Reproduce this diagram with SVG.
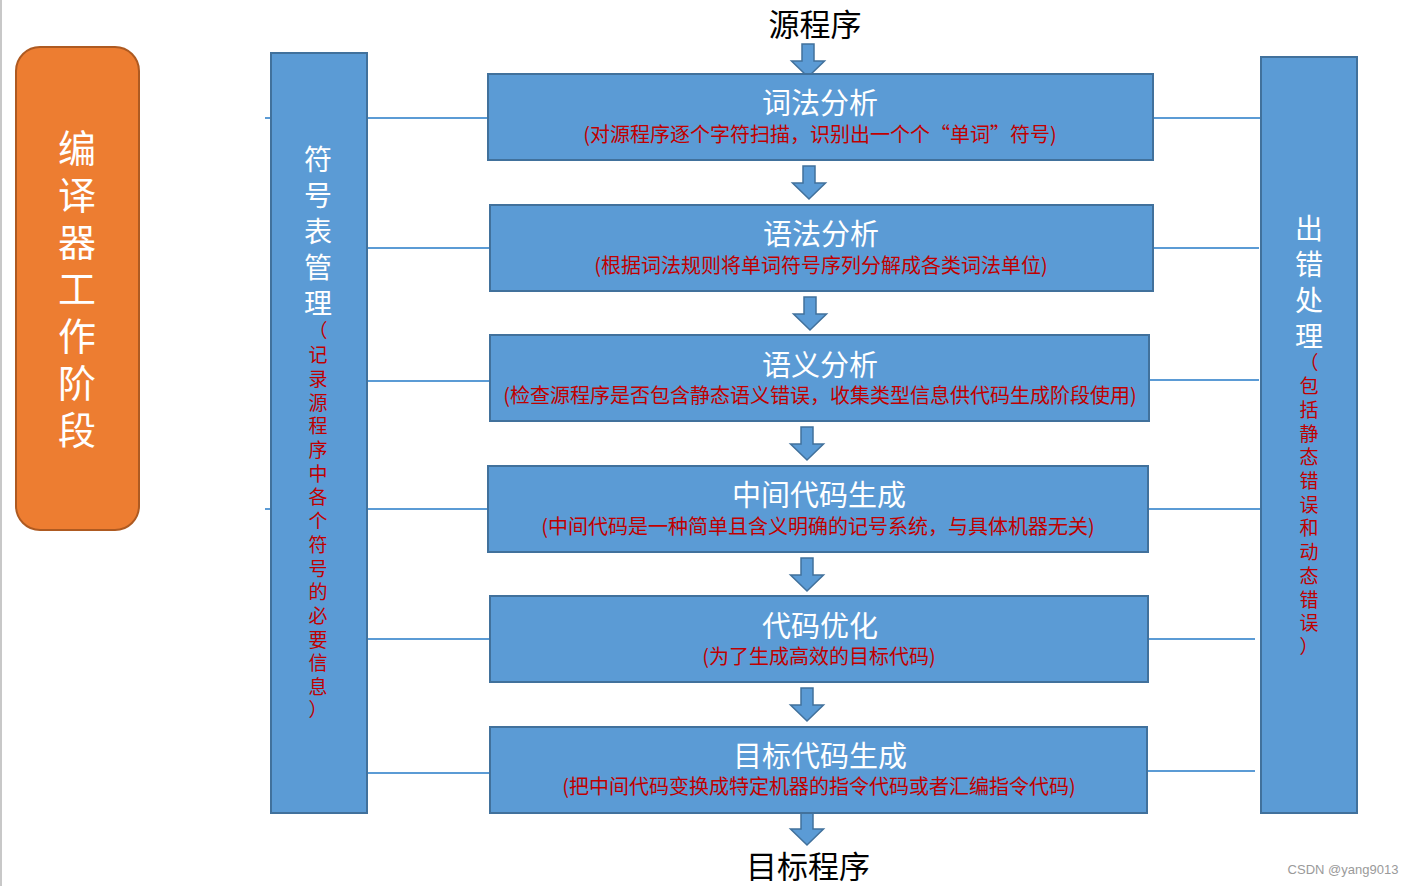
<svg xmlns="http://www.w3.org/2000/svg" width="1414" height="886" viewBox="0 0 1414 886">
<style>
.box{fill:#5B9BD5;stroke:#41719C;stroke-width:2}
.orange{fill:#ED7D31;stroke:#AE5A21;stroke-width:2}
.conn{stroke:#5B9BD5;stroke-width:2;fill:none}
.arr{fill:#5B9BD5;stroke:#41719C;stroke-width:1.5;stroke-linejoin:miter}
.cjk{font-family:"Noto Sans CJK SC","Noto Sans",sans-serif}
.title{font-size:29px;fill:#FFFFFF;text-anchor:middle}
.sub{font-size:20px;fill:#C00000;text-anchor:middle}
.vert{writing-mode:vertical-rl;text-orientation:upright;text-anchor:start}
.vw{font-size:28px;fill:#FFFFFF;letter-spacing:8px}
.vr{font-size:19px;fill:#C00000;letter-spacing:4.7px}
.par{font-size:19px;fill:#C00000;text-anchor:middle}
.big{font-size:31px;fill:#000000;text-anchor:middle}
</style>
<defs>
<path id="arrow" class="arr" d="M-6,0 H6 V17 H16.5 L0,33 L-16.5,17 H-6 Z"/>
</defs>
<rect width="1414" height="886" fill="#FFFFFF"/>
<rect x="0" y="0" width="2" height="886" fill="#C8C8C8"/>

<g id="connectors">
<line class="conn" x1="265" y1="118" x2="488" y2="118"/>
<line class="conn" x1="367" y1="248" x2="490" y2="248"/>
<line class="conn" x1="367" y1="381" x2="490" y2="381"/>
<line class="conn" x1="265" y1="509" x2="488" y2="509"/>
<line class="conn" x1="367" y1="639" x2="490" y2="639"/>
<line class="conn" x1="367" y1="773" x2="490" y2="773"/>
<line class="conn" x1="1153" y1="118" x2="1261" y2="118"/>
<line class="conn" x1="1153" y1="248" x2="1259" y2="248"/>
<line class="conn" x1="1149" y1="380" x2="1259" y2="380"/>
<line class="conn" x1="1148" y1="509" x2="1261" y2="509"/>
<line class="conn" x1="1148" y1="639" x2="1255" y2="639"/>
<line class="conn" x1="1147" y1="771" x2="1255" y2="771"/>
<use href="#arrow" x="808" y="44"/>
<use href="#arrow" x="809" y="166"/>
<use href="#arrow" x="810" y="297"/>
<use href="#arrow" x="807" y="427"/>
<use href="#arrow" x="807" y="558"/>
<use href="#arrow" x="807" y="688"/>
<use href="#arrow" x="807" y="812"/>
</g>

<g id="stage">
<rect class="orange" x="16" y="47" width="123" height="483" rx="24" ry="24"/>
<text class="cjk vert" x="77" y="129" font-size="38" fill="#FFFFFF" letter-spacing="9">编译器工作阶段</text>
</g>

<g id="source">
<text class="cjk big" x="815" y="36">源程序</text>
</g>

<g id="symtab">
<rect class="box" x="271" y="53" width="96" height="760"/>
<text class="cjk vert vw" x="318" y="145">符号表管理</text>
<text class="cjk par" x="318" y="338">（</text>
<text class="cjk vert vr" x="318" y="345.5">记录源程序中各个符号的必要信息</text>
<text class="cjk par" x="318" y="717">）</text>
</g>

<g id="error">
<rect class="box" x="1261" y="57" width="96" height="756"/>
<text class="cjk vert vw" x="1309" y="214">出错处理</text>
<text class="cjk par" x="1309" y="370">（</text>
<text class="cjk vert vr" x="1309" y="376.5">包括静态错误和动态错误</text>
<text class="cjk par" x="1309" y="654">）</text>
</g>

<g id="lexical">
<rect class="box" x="488" y="74" width="665" height="86"/>
<text class="cjk title" x="820" y="114">词法分析</text>
<text class="cjk sub" x="820" y="142">(对源程序逐个字符扫描，识别出一个个“单词”符号)</text>
</g>

<g id="syntax">
<rect class="box" x="490" y="205" width="663" height="86"/>
<text class="cjk title" x="821" y="245">语法分析</text>
<text class="cjk sub" x="821" y="273">(根据词法规则将单词符号序列分解成各类词法单位)</text>
</g>

<g id="semantic">
<rect class="box" x="490" y="335" width="659" height="86"/>
<text class="cjk title" x="820" y="376">语义分析</text>
<text class="cjk sub" x="820" y="403">(检查源程序是否包含静态语义错误，收集类型信息供代码生成阶段使用)</text>
</g>

<g id="intermediate">
<rect class="box" x="488" y="466" width="660" height="86"/>
<text class="cjk title" x="819" y="506">中间代码生成</text>
<text class="cjk sub" x="818" y="534">(中间代码是一种简单且含义明确的记号系统，与具体机器无关)</text>
</g>

<g id="optimize">
<rect class="box" x="490" y="596" width="658" height="86"/>
<text class="cjk title" x="820" y="637">代码优化</text>
<text class="cjk sub" x="819" y="664">(为了生成高效的目标代码)</text>
</g>

<g id="codegen">
<rect class="box" x="490" y="727" width="657" height="86"/>
<text class="cjk title" x="820" y="767">目标代码生成</text>
<text class="cjk sub" x="819" y="794">(把中间代码变换成特定机器的指令代码或者汇编指令代码)</text>
</g>

<g id="target">
<text class="cjk big" x="808" y="878">目标程序</text>
</g>

<text x="1343" y="874" font-family="'Liberation Sans',Arial,sans-serif" font-size="13" fill="#9A9A9A" text-anchor="middle">CSDN @yang9013</text>
</svg>
